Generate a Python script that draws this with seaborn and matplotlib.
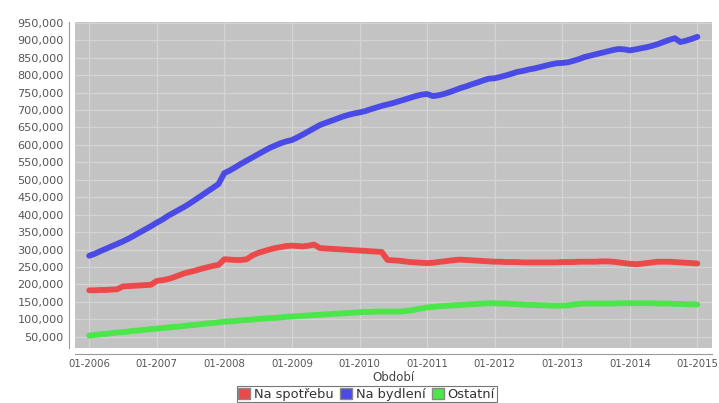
import numpy as np
import pandas as pd
import matplotlib
matplotlib.use("Agg")
import matplotlib.pyplot as plt
import matplotlib.dates as mdates
from matplotlib.patches import Patch
import seaborn as sns

# monthly values (thousands), 01-2006 .. 01-2015
na_spotrebu = [
    183, 183, 184, 184, 185, 186, 194, 195, 196, 197, 198, 199,
    210, 212, 215, 220, 226, 232, 236, 240, 245, 249, 253, 256,
    272, 271, 270, 270, 272, 283, 290, 295, 300, 304, 307, 310,
    311, 310, 309, 311, 314, 304, 303, 302, 301, 300, 299, 298,
    297, 296, 295, 294, 293, 270, 269, 268, 266, 264, 263, 262,
    261, 262, 264, 266, 268, 270, 271, 270, 269, 268, 267, 266,
    265, 265, 264, 264, 264, 263, 263, 263, 263, 263, 263, 263,
    264, 264, 264, 265, 265, 265, 265, 266, 266, 265, 263, 261,
    259, 258, 259, 261, 263, 265, 265, 265, 264, 263, 262, 261,
    260,
]
na_bydleni = [
    282, 288, 295, 302, 309, 316, 323, 331, 340, 349, 358, 367,
    377, 386, 396, 405, 414, 423, 433, 444, 455, 466, 477, 488,
    519, 527, 536, 546, 555, 564, 573, 582, 591, 598, 605, 610,
    614, 622, 630, 639, 648, 657, 663, 669, 675, 681, 686, 690,
    693, 697, 702, 707, 712, 716, 720, 725, 730, 735, 740, 744,
    746, 740, 742, 746, 751, 757, 763, 768, 774, 779, 785, 790,
    791, 795, 799, 804, 809, 812, 816, 819, 823, 827, 831, 834,
    835, 837, 841, 846, 852, 856, 860, 864, 868, 872, 875, 874,
    871, 874, 877, 880, 884, 889, 895, 901, 906, 895, 899, 904,
    910,
]
ostatni = [
    53, 55, 57, 58, 60, 62, 63, 65, 67, 68, 70, 72,
    73, 75, 76, 78, 79, 81, 83, 84, 86, 88, 89, 91,
    93, 94, 95, 97, 98, 99, 101, 102, 103, 104, 105, 107,
    108, 109, 110, 111, 112, 113, 114, 115, 116, 117, 118, 119,
    120, 121, 121, 122, 122, 122, 122, 122, 123, 125, 128, 131,
    134, 135, 137, 138, 139, 140, 141, 142, 143, 144, 145, 146,
    146, 145, 145, 144, 143, 142, 141, 141, 140, 140, 139, 139,
    139, 140, 142, 144, 145, 145, 145, 145, 145, 145, 146, 146,
    146, 146, 146, 146, 146, 145, 145, 145, 144, 144, 143, 143,
    142,
]
series_names = ["Na spotřebu", "Na bydlení", "Ostatní"]
colors = ["#ec4a4a", "#4a4ae6", "#4ae64a"]
dates = pd.date_range("2006-01-01", periods=len(na_bydleni), freq="MS")

frames = []
for name, vals in zip(series_names, [na_spotrebu, na_bydleni, ostatni]):
    frames.append(pd.DataFrame({"Období": dates, "value": np.array(vals) * 1000, "series": name}))
df = pd.concat(frames, ignore_index=True)

sns.set_style("white")
plt.rcParams["font.family"] = ["DejaVu Sans"]

fig = plt.figure(figsize=(7.19, 4.03), dpi=100)
ax = fig.add_axes([0.104, 0.136, 0.886, 0.809])
ax.set_facecolor("#c3c3c3")

sns.lineplot(data=df, x="Období", y="value", hue="series", palette=colors,
             hue_order=series_names, linewidth=4.2, ax=ax, legend=False, zorder=3)

ax.set_ylim(17000, 952000)
ax.set_xlim(pd.Timestamp("2005-10-15"), pd.Timestamp("2015-03-20"))
ax.yaxis.set_major_locator(matplotlib.ticker.MultipleLocator(50000))
ax.yaxis.set_major_formatter(matplotlib.ticker.FuncFormatter(lambda v, p: f"{int(v):,}"))
ax.xaxis.set_major_locator(mdates.YearLocator())
ax.xaxis.set_major_formatter(mdates.DateFormatter("%m-%Y"))

ax.grid(True, color="#d4d4d4", linewidth=0.9, zorder=0)
ax.set_axisbelow(True)
for s in ["top", "right"]:
    ax.spines[s].set_visible(False)
for s in ["left", "bottom"]:
    ax.spines[s].set_position(("outward", 4))
    ax.spines[s].set_color("#9a9a9a")
    ax.spines[s].set_linewidth(0.8)
ax.tick_params(axis="both", colors="#9a9a9a", labelcolor="#555555",
               length=2, width=0.6, pad=2, direction="out")
ax.tick_params(axis="y", labelsize=8.1)
ax.tick_params(axis="x", labelsize=7.3)
ax.set_xlabel("Období", fontsize=8.5, color="#444444", labelpad=1)
ax.set_ylabel("")

handles = [Patch(facecolor=c, edgecolor="#888888", label=n) for c, n in zip(colors, series_names)]
leg = fig.legend(handles=handles, loc="lower center", bbox_to_anchor=(0.51, 0.002), ncol=3,
                 fontsize=9.4, frameon=True, fancybox=False, handlelength=0.9, handleheight=0.9,
                 handletextpad=0.3, columnspacing=0.5, borderpad=0.12, labelcolor="#333333",
                 borderaxespad=0.0)
leg.get_frame().set_edgecolor("#555555")
leg.get_frame().set_linewidth(0.8)

fig.savefig("out.png", dpi=100)
